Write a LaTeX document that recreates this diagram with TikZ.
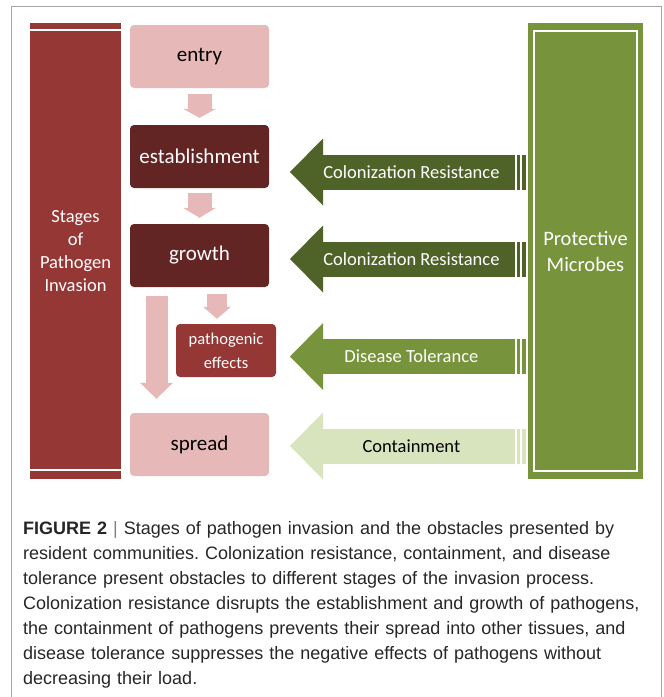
\documentclass[tikz,border=0pt]{standalone}
\usepackage{fontspec}
\setmainfont{Carlito}
\newfontfamily\capfont{Liberation Sans}
\usetikzlibrary{arrows.meta}
\frenchspacing

\definecolor{pinkfill}{HTML}{E6B9B8}
\definecolor{maroondark}{HTML}{632523}
\definecolor{maroon}{HTML}{953735}
\definecolor{olivedark}{HTML}{4F6228}
\definecolor{olive}{HTML}{77933C}
\definecolor{olivelight}{HTML}{D7E4BD}
\definecolor{framegray}{HTML}{A6A6A6}

\begin{document}
\begin{tikzpicture}[x=1pt, y=-1pt,
    stagebox/.style={rounded corners=4pt, minimum width=139pt, minimum height=63pt,
        inner sep=0pt, font=\fontsize{21}{24}\selectfont},
    sidebar/.style={minimum width=#1, minimum height=456pt, inner sep=0pt, align=center},
    pinkarrow/.style args={#1/#2/#3}{draw=pinkfill, line width=#1,
        -{Triangle[width=#2, length=#3, line width=0pt]}},
    greenarrow/.style={line width=35pt, -{Triangle[width=67pt, length=33pt, line width=0pt]}},
    armlabel/.style={font=\fontsize{18.5}{22}\selectfont}]
    \useasboundingbox (0,0) rectangle (664,697);
    \draw[framegray] (11,697) |- (661,6) -- (661,697);

    % the two side bars
    \node[sidebar=91pt, fill=maroon, text=white, font=\fontsize{18.5}{23}\selectfont]
        (stages) at (75.5,251) {Stages\\of\\Pathogen\\Invasion};
    \draw[white, line width=2pt] ([yshift=-7pt]stages.north west) -- ([yshift=-7pt]stages.north east);
    \draw[white, line width=2pt] ([yshift=9pt]stages.south west) -- ([yshift=9pt]stages.south east);
    \node[sidebar=115pt, fill=olive, text=white, font=\fontsize{20.5}{26}\selectfont]
        (microbes) at (585.5,251) {Protective\\Microbes};
    \draw[white, line width=2pt] ([xshift=6.5pt,yshift=-8.5pt]microbes.north west)
        rectangle ([xshift=-6.5pt,yshift=8.5pt]microbes.south east);

    % stages of invasion
    \node[stagebox, fill=pinkfill] (entry) at (199.5,56.5) {entry};
    \node[stagebox, fill=maroondark, text=white] (estab) at (199.5,156.5) {establishment};
    \node[stagebox, fill=maroondark, text=white] (growth) at (199.5,255.5) {growth};
    \node[stagebox, fill=maroon, text=white, minimum width=100pt, minimum height=53pt,
        align=center, font=\fontsize{16.5}{24}\selectfont] (patho) at (226,350.5) {pathogenic\\effects};
    \node[stagebox, fill=pinkfill] (spread) at (199.5,444.5) {spread};

    \draw[pinkarrow=24pt/33pt/9pt, shorten <=6pt, shorten >=7pt] (entry) -- (estab);
    \draw[pinkarrow=24pt/33pt/10pt, shorten <=5pt, shorten >=6pt] (estab) -- (growth);
    \draw[pinkarrow=20pt/28pt/12pt, shorten <=7pt, shorten >=5pt]
        ([xshift=17.5pt]growth.south) -- ([xshift=17.5pt]growth.south |- patho.north);
    \draw[pinkarrow=22pt/33pt/16pt, shorten <=9pt, shorten >=14pt]
        ([xshift=-43pt]growth.south) -- ([xshift=-43pt]growth.south |- spread.north);

    % obstacles from the resident microbes
    \coordinate (tip1) at (290,172);
    \coordinate (tip2) at (290,259);
    \coordinate (tip3) at (290,356.5);
    \coordinate (tip4) at (290,446);
    \draw[greenarrow, olivedark] (microbes.west |- tip1) ++(-13,0) -- (tip1)
        node[armlabel, pos=0.46, text=white] {Colonization Resistance};
    \draw[greenarrow, olivedark] (microbes.west |- tip2) ++(-13,0) -- (tip2)
        node[armlabel, pos=0.46, text=white] {Colonization Resistance};
    \draw[greenarrow, olive] (microbes.west |- tip3) ++(-13,0) -- (tip3)
        node[armlabel, pos=0.46, text=white] {Disease Tolerance};
    \draw[greenarrow, olivelight] (microbes.west |- tip4) ++(-13,0) -- (tip4)
        node[armlabel, pos=0.46, text=black] {Containment};
    \foreach \t/\c in {tip1/olivedark, tip2/olivedark, tip3/olive, tip4/olivelight} {
        \draw[\c, line width=35pt] (microbes.west |- \t) ++(-11,0) -- ++(3,0);
        \draw[\c, line width=35pt] (microbes.west |- \t) ++(-6,0) -- ++(4,0);
    }

    \node[anchor=base west, inner sep=0pt, text width=640pt, align=left, text=black!85,
        font=\capfont\fontsize{18}{25}\selectfont] (caption) at (23,534)
        {\textbf{FIGURE 2} {\color{black!50}|} Stages of pathogen invasion and the obstacles presented by\\
        resident communities. Colonization resistance, containment, and disease\\
        tolerance present obstacles to different stages of the invasion process.\\
        Colonization resistance disrupts the establishment and growth of pathogens,\\
        the containment of pathogens prevents their spread into other tissues, and\\
        disease tolerance suppresses the negative effects of pathogens without\\
        decreasing their load.};
\end{tikzpicture}
\end{document}
